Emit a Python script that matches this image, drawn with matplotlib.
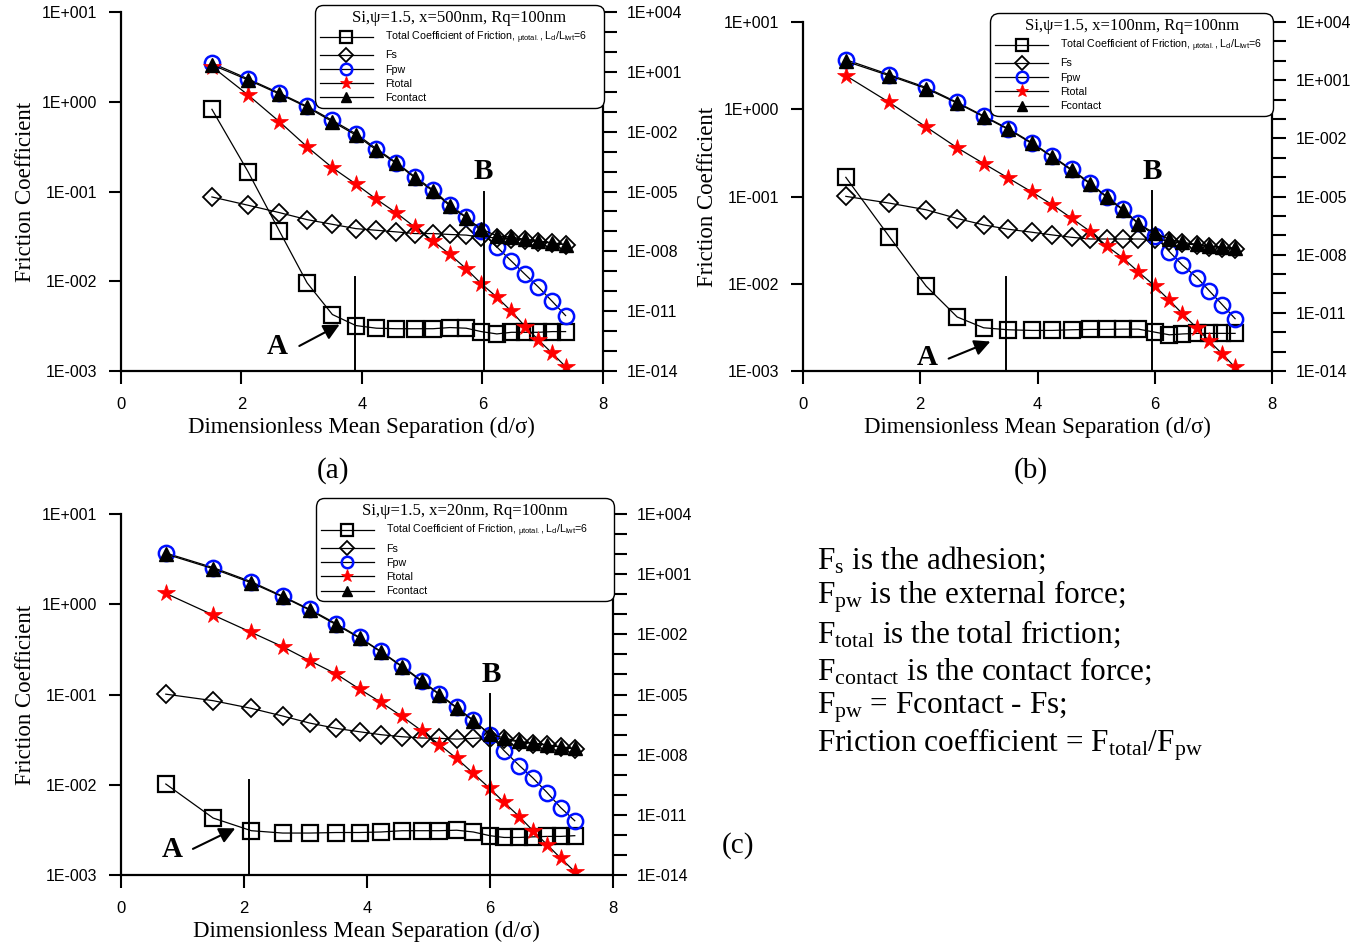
import matplotlib
matplotlib.use("Agg")
import matplotlib.pyplot as plt
from matplotlib.ticker import FixedLocator, NullLocator, NullFormatter

plt.rcParams['font.family'] = ['Liberation Serif', 'DejaVu Serif']
plt.rcParams['mathtext.fontset'] = 'custom'
plt.rcParams['mathtext.rm'] = 'Liberation Serif'
plt.rcParams['mathtext.it'] = 'Liberation Serif:italic'
plt.rcParams['mathtext.sf'] = 'Liberation Sans'

SANS = ['Liberation Sans', 'DejaVu Sans']

# ---- data (values in friction-coefficient units) ----
x_a = [1.51, 2.11, 2.63, 3.09, 3.51, 3.90, 4.24, 4.57, 4.88, 5.18, 5.46, 5.73, 5.98, 6.24, 6.48, 6.71, 6.93, 7.16, 7.38]
a_mu = [0.824, 0.166, 0.0363, 0.0096, 0.00426, 0.00321, 0.0030, 0.00296, 0.00296, 0.00296, 0.00305, 0.0030, 0.00275, 0.00259, 0.0027, 0.0027, 0.0027, 0.00275, 0.00275]
a_fs = [0.087, 0.0703, 0.0582, 0.0486, 0.0431, 0.0386, 0.037, 0.0355, 0.034, 0.034, 0.0332, 0.0327, 0.031, 0.0305, 0.0297, 0.0286, 0.0275, 0.0266, 0.0256]
a_fpw = [2.7, 1.8, 1.25, 0.89, 0.62, 0.44, 0.30, 0.21, 0.146, 0.104, 0.071, 0.052, 0.036, 0.0241, 0.0168, 0.0119, 0.0086, 0.00596, 0.00415]
a_ftot = [2.47, 1.19, 0.60, 0.315, 0.184, 0.121, 0.082, 0.0578, 0.040, 0.0281, 0.0199, 0.0138, 0.0094, 0.00665, 0.00464, 0.00313, 0.00222, 0.00157, 0.00112]
a_fcon = [2.58, 1.75, 1.22, 0.87, 0.60, 0.425, 0.29, 0.206, 0.142, 0.101, 0.069, 0.051, 0.0383, 0.032, 0.0311, 0.0293, 0.0281, 0.0269, 0.0256]

x_b = [0.73, 1.47, 2.10, 2.63, 3.08, 3.50, 3.90, 4.25, 4.58, 4.90, 5.18, 5.45, 5.72, 6.00, 6.25, 6.47, 6.72, 6.93, 7.15, 7.37]
b_mu = [0.166, 0.0348, 0.0094, 0.00416, 0.00313, 0.00297, 0.00292, 0.00292, 0.00297, 0.0030, 0.0030, 0.00302, 0.00302, 0.00279, 0.0026, 0.00266, 0.0027, 0.0027, 0.0027, 0.0027]
b_fs = [0.1005, 0.0841, 0.0705, 0.056, 0.0473, 0.0422, 0.039, 0.0363, 0.0341, 0.0326, 0.0326, 0.0326, 0.0326, 0.0322, 0.031, 0.029, 0.0278, 0.0267, 0.026, 0.025]
b_fpw = [3.7, 2.5, 1.78, 1.2, 0.84, 0.60, 0.415, 0.29, 0.205, 0.142, 0.10, 0.072, 0.0495, 0.0355, 0.0233, 0.0164, 0.0118, 0.0083, 0.00577, 0.00398]
b_ftot = [2.43, 1.2, 0.627, 0.362, 0.239, 0.163, 0.113, 0.0805, 0.0565, 0.0397, 0.0271, 0.0199, 0.0137, 0.0094, 0.00646, 0.00454, 0.0031, 0.0022, 0.00157, 0.0011]
b_fcon = [3.55, 2.43, 1.73, 1.175, 0.824, 0.589, 0.406, 0.285, 0.2, 0.139, 0.098, 0.0705, 0.0486, 0.038, 0.0324, 0.0299, 0.0283, 0.0271, 0.0264, 0.0255]

x_c = [0.73, 1.50, 2.12, 2.63, 3.07, 3.50, 3.88, 4.23, 4.57, 4.89, 5.18, 5.46, 5.73, 6.00, 6.23, 6.48, 6.70, 6.93, 7.15, 7.38]
c_mu = [0.0102, 0.00428, 0.0031, 0.00292, 0.00292, 0.00296, 0.00296, 0.0030, 0.0031, 0.0031, 0.0031, 0.00314, 0.0030, 0.00273, 0.00261, 0.00261, 0.00265, 0.00268, 0.00268, 0.00273]
c_fs = [0.101, 0.0855, 0.0703, 0.0578, 0.0483, 0.0422, 0.0387, 0.0359, 0.0341, 0.033, 0.0327, 0.0321, 0.0327, 0.0334, 0.032, 0.0298, 0.0286, 0.0275, 0.0262, 0.025]
c_fpw = [3.7, 2.55, 1.78, 1.23, 0.88, 0.61, 0.43, 0.30, 0.207, 0.143, 0.101, 0.072, 0.052, 0.0357, 0.0239, 0.0163, 0.0119, 0.0082, 0.0056, 0.004]
c_ftot = [1.32, 0.76, 0.489, 0.339, 0.237, 0.169, 0.115, 0.0818, 0.0573, 0.0397, 0.0278, 0.0196, 0.0134, 0.0091, 0.00638, 0.00443, 0.0031, 0.00217, 0.00154, 0.00109]
c_fcon = [3.6, 2.48, 1.73, 1.21, 0.863, 0.594, 0.423, 0.296, 0.203, 0.14, 0.0995, 0.0708, 0.0513, 0.0365, 0.033, 0.0303, 0.029, 0.0278, 0.0264, 0.0253]

titles = ['Si,\u03c8=1.5, x=500nm, Rq=100nm',
          'Si,\u03c8=1.5, x=100nm, Rq=100nm',
          'Si,\u03c8=1.5, x=20nm, Rq=100nm']
series_names = [r'Total Coefficient of Friction, $_{\mathsf{\mu total.}}$, L$_{\mathsf{d}}$/L$_{\mathsf{lwt}}$=6',
                'Fs', 'Fpw', 'Ftotal', 'Fcontact']

left_ticks = [1e-3, 1e-2, 1e-1, 1e0, 1e1]
left_labels = ['1E-003', '1E-002', '1E-001', '1E+000', '1E+001']
right_ticks = [1e-14, 1e-11, 1e-8, 1e-5, 1e-2, 1e1, 1e4]
right_labels = ['1E-014', '1E-011', '1E-008', '1E-005', '1E-002', '1E+001', '1E+004']
x_ticks = [0, 2, 4, 6, 8]

notes = [r'F$_{\rm s}$ is the adhesion;',
         r'F$_{\rm pw}$ is the external force;',
         r'F$_{\rm total}$ is the total friction;',
         r'F$_{\rm contact}$ is the contact force;',
         r'F$_{\rm pw}$ = Fcontact - Fs;',
         r'Friction coefficient = F$_{\rm total}$/F$_{\rm pw}$']

fig = plt.figure(figsize=(13.65, 9.46), dpi=100)


def panel(rect, x, mu, fs, fpw, ftot, fcon, title, lineA, lineB, labA, labB, arrow, leg_x, leg_top):
    ax = fig.add_axes(rect)
    ax.set_yscale('log')
    ax.set_xlim(0, 8)
    ax.set_ylim(1e-3, 1e1)

    ax.plot(x, mu, '-', color='k', lw=0.9, marker='s', ms=11, mfc='none', mec='k', mew=1.6, label=series_names[0])
    ax.plot(x, fs, '-', color='k', lw=0.9, marker='D', ms=9, mfc='none', mec='k', mew=1.3, label=series_names[1])
    ax.plot(x, fpw, '-', color='k', lw=0.9, marker='o', ms=11, mfc='none', mec='#0010ff', mew=1.8, label=series_names[2])
    ax.plot(x, ftot, '-', color='k', lw=0.9, marker='*', ms=13, mfc='#ff0000', mec='#ff0000', mew=0.5, label=series_names[3])
    ax.plot(x, fcon, '-', color='k', lw=0.9, marker='^', ms=10, mfc='k', mec='k', label=series_names[4])

    # marker lines A and B
    ax.plot([lineA[0], lineA[0]], [1e-3, lineA[1]], color='k', lw=1.4)
    ax.plot([lineB[0], lineB[0]], [1e-3, lineB[1]], color='k', lw=1.4)
    ax.text(labA[0], labA[1], 'A', fontsize=21, fontweight='bold', ha='center', va='center')
    ax.text(labB[0], labB[1], 'B', fontsize=21, fontweight='bold', ha='center', va='center')
    ax.annotate('', xy=arrow[1], xytext=arrow[0],
                arrowprops=dict(arrowstyle='-|>', color='k', lw=1.5, mutation_scale=24))

    ax.set_xticks(x_ticks)
    ax.set_xticklabels([str(t) for t in x_ticks], family=SANS, fontsize=12)
    ax.yaxis.set_major_locator(FixedLocator(left_ticks))
    ax.yaxis.set_minor_locator(NullLocator())
    ax.set_yticklabels(left_labels, family=SANS, fontsize=11.5)
    ax.tick_params(direction='out', length=9, width=1.5)
    ax.tick_params(axis='x', pad=10)
    ax.tick_params(axis='y', pad=8)
    ax.spines['top'].set_visible(False)
    ax.spines['right'].set_visible(False)
    for s in ['left', 'bottom']:
        ax.spines[s].set_linewidth(1.6)
    ax.set_xlabel('Dimensionless Mean Separation (d/\u03c3)', fontsize=16.5, labelpad=3)
    ax.set_ylabel('Friction Coefficient', fontsize=16.5, labelpad=4)

    # force axis on the right
    ax2 = ax.twinx()
    ax2.set_yscale('log')
    ax2.set_ylim(1e-14, 1e4)
    ax2.yaxis.set_major_locator(FixedLocator(right_ticks))
    ax2.yaxis.set_minor_locator(FixedLocator([10.0 ** k for k in range(-14, 5)]))
    ax2.yaxis.set_minor_formatter(NullFormatter())
    ax2.set_yticklabels(right_labels, family=SANS, fontsize=11.5)
    ax2.tick_params(which='both', direction='out', length=10, width=1.5, pad=7)
    for s in ['top', 'left', 'bottom']:
        ax2.spines[s].set_visible(False)
    ax2.spines['right'].set_linewidth(1.6)

    h, l = ax.get_legend_handles_labels()
    leg = ax2.legend(h, l, title=title, loc='upper left',
                     bbox_to_anchor=(leg_x, 0.0, 1.0 - leg_x + 0.002, leg_top),
                     mode='expand', borderaxespad=0, fancybox=True, framealpha=1,
                     edgecolor='k', prop={'family': SANS, 'size': 7.7},
                     title_fontproperties={'family': 'Liberation Serif', 'size': 12},
                     handlelength=5.0, labelspacing=0.4, markerscale=0.75,
                     borderpad=0.45, handletextpad=1.1)
    leg.get_frame().set_linewidth(1.0)
    leg.get_frame().set_boxstyle('round,pad=0.0,rounding_size=0.8')
    return ax


panel([0.0886, 0.6078, 0.3531, 0.3795], x_a, a_mu, a_fs, a_fpw, a_ftot, a_fcon, titles[0],
      (3.88, 0.0111), (6.02, 0.099), (2.6, 0.0019), (6.02, 0.166),
      ((2.92, 0.00184), (3.67, 0.0034)), 0.402, 1.02)
panel([0.5883, 0.6078, 0.3436, 0.3689], x_b, b_mu, b_fs, b_fpw, b_ftot, b_fcon, titles[1],
      (3.46, 0.012), (5.95, 0.115), (2.12, 0.00144), (5.95, 0.195),
      ((2.44, 0.00135), (3.24, 0.00224)), 0.399, 1.026)
panel([0.0886, 0.0750, 0.3604, 0.3816], x_c, c_mu, c_fs, c_fpw, c_ftot, c_fcon, titles[2],
      (2.09, 0.0113), (6.0, 0.101), (0.83, 0.00194), (6.02, 0.166),
      ((1.13, 0.00189), (1.9, 0.0034)), 0.396, 1.044)

fig.text(0.244, 0.503, '(a)', fontsize=21, ha='center', va='center')
fig.text(0.755, 0.503, '(b)', fontsize=21, ha='center', va='center')
fig.text(0.5407, 0.1057, '(c)', fontsize=21, ha='center', va='center')

for i, line in enumerate(notes):
    fig.text(0.5985, 0.408 - i * 0.0391, line, fontsize=22.5, ha='left', va='center')

fig.savefig('out.png', dpi=100)
